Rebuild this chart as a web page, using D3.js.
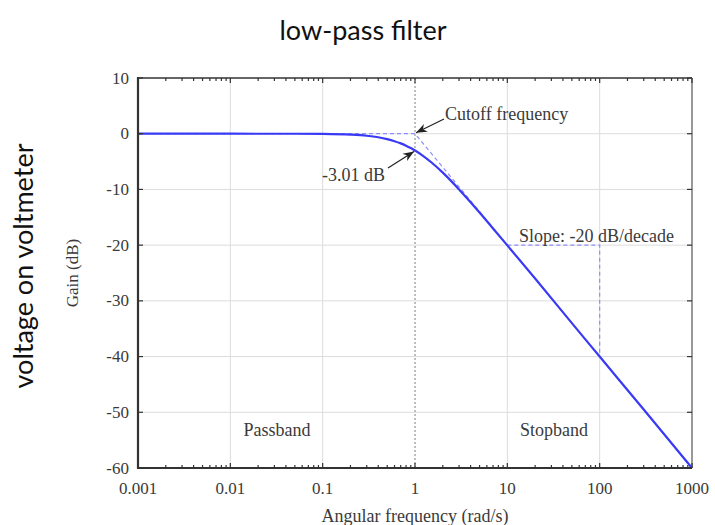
<!DOCTYPE html>
<html>
<head>
<meta charset="utf-8">
<script src="https://cdn.jsdelivr.net/npm/d3@7"></script>
<style>
body{margin:0;background:#fff}
</style>
</head>
<body>
<svg id="mySVG" width="715" height="525"></svg>
<script>
//---data---
var freqTicks = [0.001, 0.01, 0.1, 1, 10, 100, 1000]
var freqTickLabels = ["0.001", "0.01", "0.1", "1", "10", "100", "1000"]
var gainTicks = [10, 0, -10, -20, -30, -40, -50, -60]
var curveFreq = [0.001, 0.01, 0.05, 0.1, 0.2, 0.3, 0.4, 0.5, 0.6, 0.7, 0.8, 0.9, 1, 1.2, 1.5, 2, 2.5, 3, 4, 5, 7, 10, 20, 50, 100, 300, 1000]
var curveGain = [0, 0, -0.01, -0.04, -0.17, -0.37, -0.64, -0.97, -1.34, -1.73, -2.15, -2.58, -3.01, -3.87, -5.12, -6.99, -8.6, -10.0, -12.3, -14.15, -17.0, -20.04, -26.0, -34.0, -40.0, -49.5, -60.0]
var asymFreq = [0.001, 1, 1000]
var asymGain = [0, 0, -60]
var slopeFreq = [10, 100, 100]
var slopeGain = [-20, -20, -40]

var MySVG = d3.select("#mySVG")
var serif = "'Liberation Serif', 'DejaVu Serif', serif"
var sans = "Lato, 'Open Sans', sans-serif"

var L = 138, R = 692, T = 78, B = 468

var X = d3.scaleLog().domain([0.001, 1000]).range([L, R])
var Y = d3.scaleLinear().domain([-60, 10]).range([B, T])

//---outer titles---
MySVG.append("text")
    .attr("x", 363).attr("y", 40)
    .attr("text-anchor", "middle")
    .attr("font-family", sans)
    .attr("font-size", 27)
    .attr("fill", "#111")
    .text("low-pass filter")

MySVG.append("text")
    .attr("transform", "translate(33,266) rotate(-90)")
    .attr("text-anchor", "middle")
    .attr("font-family", sans)
    .attr("font-size", 27)
    .attr("fill", "#111")
    .text("voltage on voltmeter")

//---grid---
var Grid = MySVG.append("g").attr("id", "gridLayer")
Grid.selectAll("line.gy").data(gainTicks.filter(function(d){return d > -60 && d < 10}))
    .enter().append("line")
    .attr("x1", L).attr("x2", R)
    .attr("y1", function(d){return Y(d)}).attr("y2", function(d){return Y(d)})
    .attr("stroke", "#dcdcdc").attr("stroke-width", 1)
Grid.selectAll("line.gx").data(freqTicks.filter(function(d){return d > 0.001 && d < 1000}))
    .enter().append("line")
    .attr("y1", T).attr("y2", B)
    .attr("x1", function(d){return X(d)}).attr("x2", function(d){return X(d)})
    .attr("stroke", function(d){return d == 1 ? "#aaa" : "#dcdcdc"})
    .attr("stroke-width", function(d){return d == 1 ? 1.5 : 1})
    .attr("stroke-dasharray", function(d){return d == 1 ? "2,2" : null})

//---dashed asymptotes---
var line = d3.line()
    .x(function(d){return X(d[0])})
    .y(function(d){return Y(d[1])})

MySVG.append("path")
    .attr("d", line(d3.zip(asymFreq, asymGain)))
    .attr("fill", "none")
    .attr("stroke", "#8f8ff7")
    .attr("stroke-width", 1.2)
    .attr("stroke-dasharray", "4,3")
MySVG.append("path")
    .attr("d", line(d3.zip(slopeFreq, slopeGain)))
    .attr("fill", "none")
    .attr("stroke", "#8f8ff7")
    .attr("stroke-width", 1.2)
    .attr("stroke-dasharray", "4,3")

//---response curve---
MySVG.append("path")
    .attr("d", line.curve(d3.curveMonotoneX)(d3.zip(curveFreq, curveGain)))
    .attr("fill", "none")
    .attr("stroke", "#3a3af5")
    .attr("stroke-width", 2.2)

//---frame + ticks---
var minor = []
for (var i = 0; i < freqTicks.length - 1; i++)
    for (var k = 2; k <= 9; k++) minor.push(freqTicks[i] * k)

var Frame = MySVG.append("g").attr("stroke", "#333")
Frame.append("line").attr("x1", L).attr("x2", R).attr("y1", T).attr("y2", T).attr("stroke-width", 1.5)
Frame.append("line").attr("x1", R).attr("x2", R).attr("y1", T).attr("y2", B).attr("stroke-width", 1.5).attr("stroke", "#777")
Frame.append("line").attr("x1", L).attr("x2", L).attr("y1", T - 1).attr("y2", B + 1).attr("stroke-width", 2.2)
Frame.append("line").attr("x1", L - 1).attr("x2", R).attr("y1", B).attr("y2", B).attr("stroke-width", 2.2)

;[T, B].forEach(function(yy){
    var dir = yy == T ? 1 : -1
    Frame.selectAll(null).data(freqTicks).enter().append("line")
        .attr("x1", function(d){return X(d)}).attr("x2", function(d){return X(d)})
        .attr("y1", yy).attr("y2", yy + dir * 5).attr("stroke-width", 1.2)
    Frame.selectAll(null).data(minor).enter().append("line")
        .attr("x1", function(d){return X(d)}).attr("x2", function(d){return X(d)})
        .attr("y1", yy).attr("y2", yy + dir * 3).attr("stroke-width", 1.2)
})
;[L, R].forEach(function(xx){
    var dir = xx == L ? 1 : -1
    Frame.selectAll(null).data(gainTicks).enter().append("line")
        .attr("y1", function(d){return Y(d)}).attr("y2", function(d){return Y(d)})
        .attr("x1", xx).attr("x2", xx + dir * 5).attr("stroke-width", 1.2)
})

//---tick labels---
MySVG.append("g").selectAll("text").data(gainTicks).enter().append("text")
    .attr("x", L - 9).attr("y", function(d){return Y(d)})
    .attr("dy", "0.33em")
    .attr("text-anchor", "end")
    .attr("font-family", serif).attr("font-size", 17).attr("fill", "#3a3a3a")
    .text(function(d){return d})
MySVG.append("g").selectAll("text").data(freqTicks).enter().append("text")
    .attr("x", function(d){return X(d)}).attr("y", 494)
    .attr("text-anchor", "middle")
    .attr("font-family", serif).attr("font-size", 17).attr("fill", "#3a3a3a")
    .text(function(d, i){return freqTickLabels[i]})

//---axis titles---
MySVG.append("text")
    .attr("transform", "translate(78,273) rotate(-90)")
    .attr("text-anchor", "middle")
    .attr("font-family", serif).attr("font-size", 17).attr("fill", "#3a3a3a")
    .text("Gain (dB)")
MySVG.append("text")
    .attr("x", 415).attr("y", 522)
    .attr("text-anchor", "middle")
    .attr("font-family", serif).attr("font-size", 18).attr("fill", "#3a3a3a")
    .text("Angular frequency (rad/s)")

//---annotations---
var defs = MySVG.append("defs")
defs.append("marker")
    .attr("id", "endArrow")
    .attr("viewBox", "0 0 10 10")
    .attr("refX", 10).attr("refY", 5)
    .attr("markerWidth", 11).attr("markerHeight", 11)
    .attr("markerUnits", "userSpaceOnUse")
    .attr("orient", "auto")
    .append("path")
    .attr("d", "M0,1 L10,5 L0,9 L3,5 Z")
    .attr("fill", "#222")

function note(txt, x, y, anchor){
    MySVG.append("text")
        .attr("x", x).attr("y", y)
        .attr("text-anchor", anchor || "start")
        .attr("font-family", serif).attr("font-size", 18).attr("fill", "#3a3a3a")
        .text(txt)
}
note("Cutoff frequency", 445, 120)
note("-3.01 dB", 322, 181)
note("Slope: -20 dB/decade", 519, 242)
note("Passband", 277, 436, "middle")
note("Stopband", 554, 436, "middle")

MySVG.append("line")
    .attr("x1", 444).attr("y1", 119)
    .attr("x2", X(1) + 1).attr("y2", Y(0) - 1)
    .attr("stroke", "#222").attr("stroke-width", 1.2)
    .attr("marker-end", "url(#endArrow)")
MySVG.append("line")
    .attr("x1", 388).attr("y1", 168)
    .attr("x2", X(1) - 1).attr("y2", Y(-3.01) + 1)
    .attr("stroke", "#222").attr("stroke-width", 1.2)
    .attr("marker-end", "url(#endArrow)")
</script>
</body>
</html>
